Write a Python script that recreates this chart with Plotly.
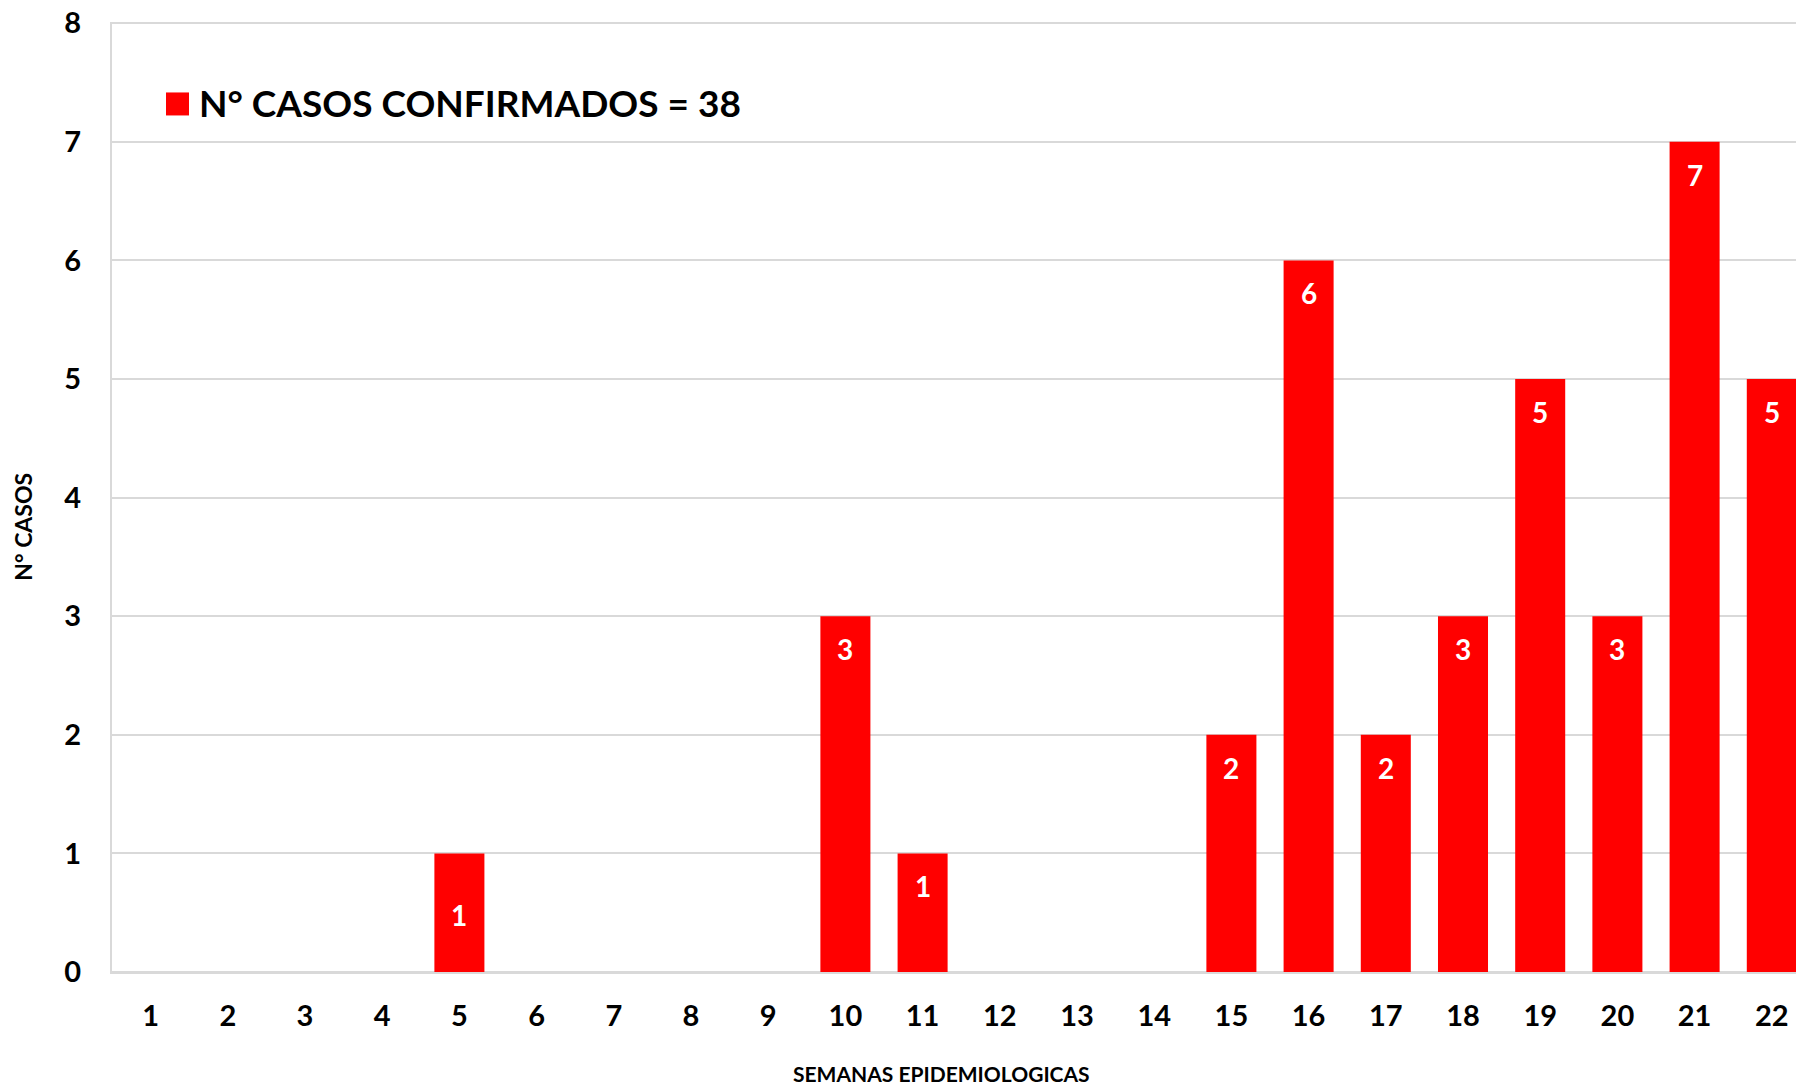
import plotly.graph_objects as go

weeks = list(range(1, 23))
week_labels = [str(w) for w in weeks]
cases = [0, 0, 0, 0, 1, 0, 0, 0, 0, 3, 1, 0, 0, 0, 2, 6, 2, 3, 5, 3, 7, 5]
y_ticks = [0, 1, 2, 3, 4, 5, 6, 7, 8]
series_name = "N° CASOS CONFIRMADOS = 38"
x_title = "SEMANAS EPIDEMIOLOGICAS"
y_title = "N° CASOS"

FONT = "Lato"
RED = "#FF0000"
GRID = "#D9D9D9"

W, H = 1796, 1086
ML, MT, MR = 112, 22, 0
MB = 113.5
plot_w = W - ML - MR
plot_h = H - MT - MB
slot = 77.2  # pixel width of one week slot
x_end = 0.5 + plot_w / slot
y_top = 8.01

fig = go.Figure()
fig.add_trace(go.Bar(
    x=weeks, y=cases, name=series_name,
    marker=dict(color=RED, line=dict(width=0)),
    showlegend=True,
))

# data labels (white, bold, inside near top)
label_shift = [-33] * len(cases)
label_shift[4] = -62
for w, v, s in zip(weeks, cases, label_shift):
    if v > 0:
        fig.add_annotation(x=w, y=v, xref="x", yref="y", text=str(v), showarrow=False,
                           yshift=s, font=dict(family=FONT, size=28, color="white", weight="bold"))

# axis titles
fig.add_annotation(x=(941 - ML) / plot_w, y=0, xref="paper", yref="paper",
                   yshift=-101.5, showarrow=False, xanchor="center", yanchor="middle",
                   text=x_title, font=dict(family=FONT, size=21, color="black", weight="bold"))
fig.add_annotation(x=0, y=(H - MB - 527) / plot_h, xref="paper", yref="paper",
                   xshift=23 - ML, showarrow=False, xanchor="center", yanchor="middle",
                   textangle=-90,
                   text=y_title, font=dict(family=FONT, size=23, color="black", weight="bold"))

# enlarge legend swatch (drawn behind the legend's own swatch)
sx = (177.5 - ML) / plot_w
sy = (H - MB - 104) / plot_h
fig.add_shape(type="rect", xref="paper", yref="paper",
              xsizemode="pixel", ysizemode="pixel", xanchor=sx, yanchor=sy,
              x0=-11.5, x1=11.5, y0=-11.5, y1=11.5,
              fillcolor=RED, line=dict(width=0), layer="above")

fig.update_layout(
    width=W, height=H,
    margin=dict(l=ML, r=MR, t=MT, b=MB, autoexpand=False),
    paper_bgcolor="white", plot_bgcolor="white",
    bargap=0.352,
    font=dict(family=FONT, color="black"),
    legend=dict(x=(159 - ML) / plot_w, y=(H - MB - 104) / plot_h + 0.0015,
                xanchor="left", yanchor="middle",
                bgcolor="rgba(0,0,0,0)", borderwidth=0,
                font=dict(family=FONT, size=37, color="black", weight="bold")),
    xaxis=dict(
        range=[0.5, x_end], tickmode="array", tickvals=weeks, ticktext=week_labels,
        showgrid=False, showline=True, linecolor=GRID, linewidth=2,
        zeroline=False, ticklabeloverflow="allow",
        ticks="", ticklabelstandoff=17,
        tickfont=dict(family=FONT, size=29, color="black", weight="bold"),
    ),
    yaxis=dict(
        range=[0, y_top], tickmode="array", tickvals=y_ticks,
        showgrid=True, gridcolor=GRID, gridwidth=2,
        showline=True, linecolor=GRID, linewidth=2,
        zeroline=True, zerolinecolor=GRID, zerolinewidth=2,
        ticklabeloverflow="allow",
        ticks="", ticklabelstandoff=23,
        tickfont=dict(family=FONT, size=29, color="black", weight="bold"),
    ),
)

fig.write_html("out.html", config={"displayModeBar": False},
               post_script="document.body.style.margin='0';")
